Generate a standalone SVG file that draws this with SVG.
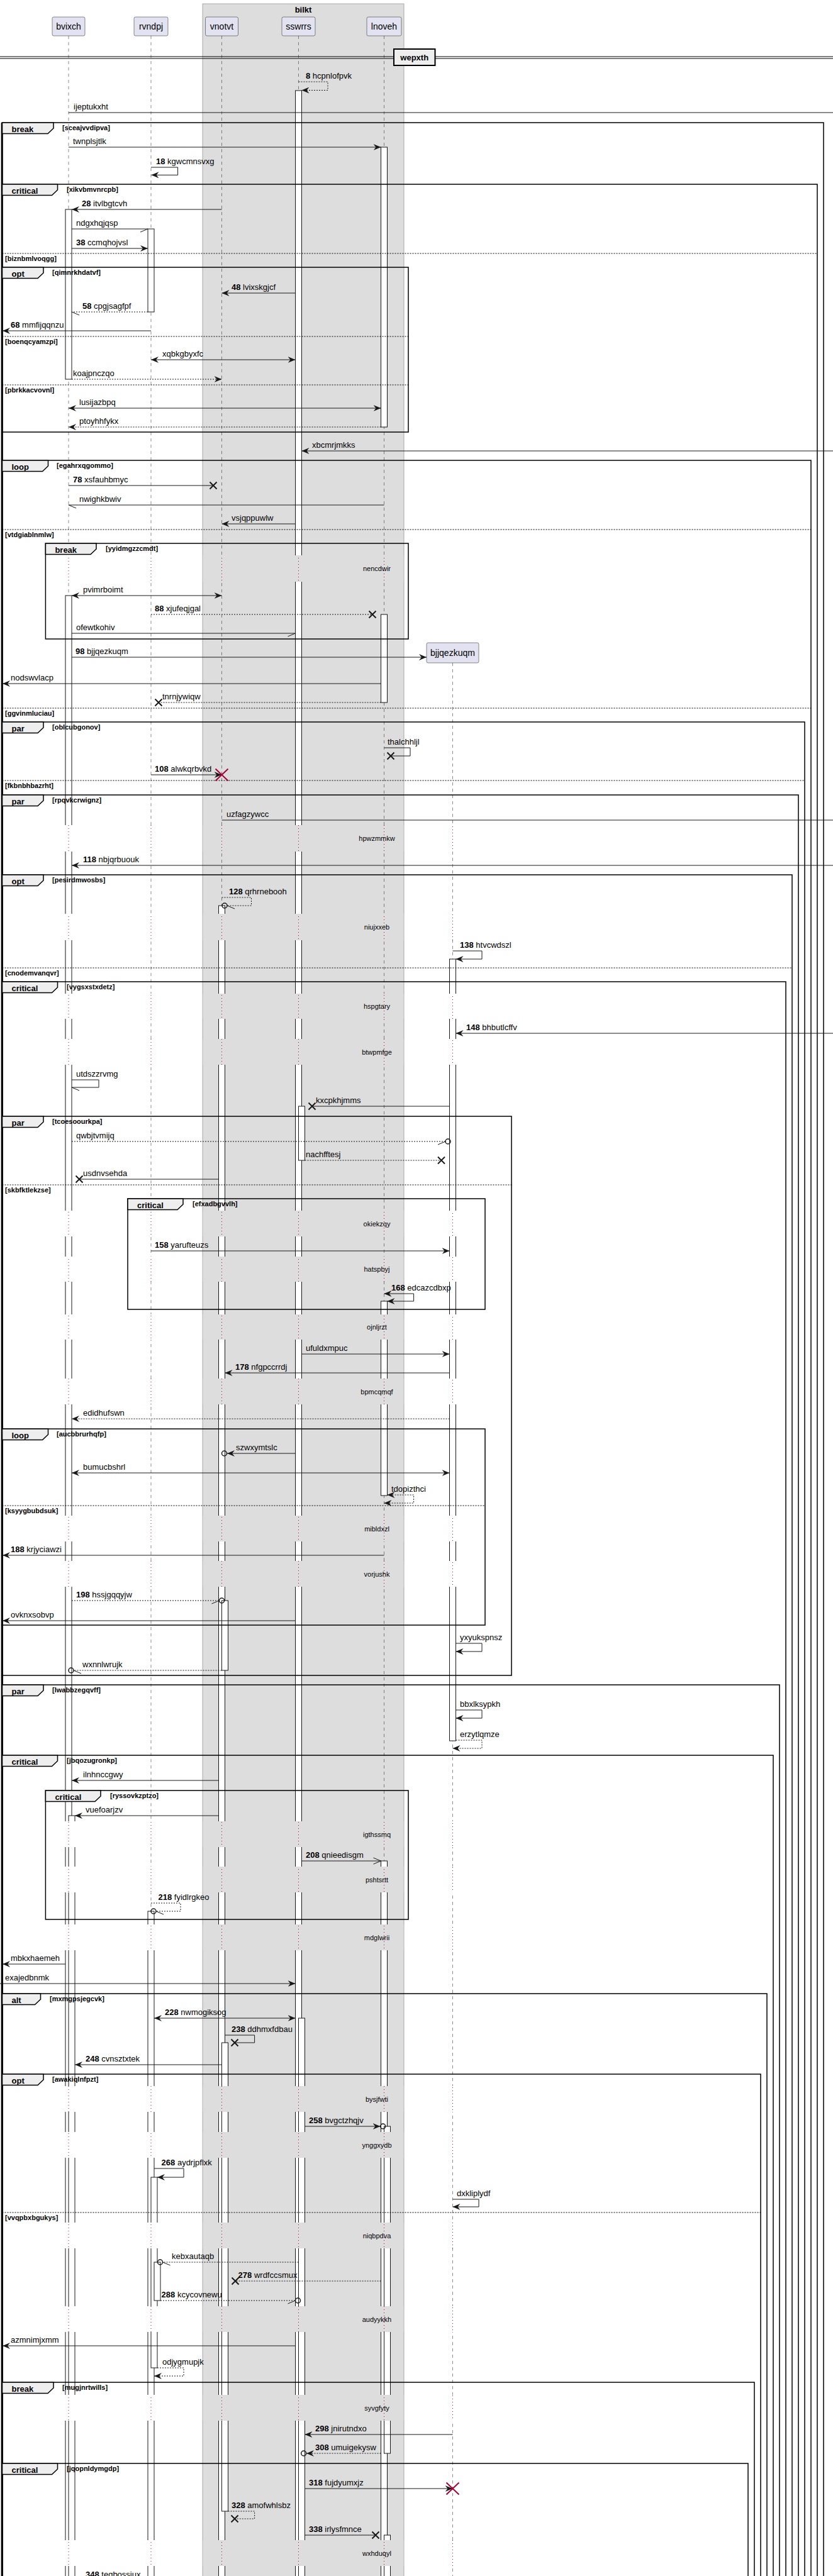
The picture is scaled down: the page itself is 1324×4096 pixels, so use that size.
<svg xmlns="http://www.w3.org/2000/svg" width="1324" height="4096" viewBox="0 0 1324 4096">
<style>
text{font-family:"Liberation Sans",Arial,sans-serif;font-size:13px;fill:#000}
.n{font-weight:bold}
.g{font-size:11px;font-weight:bold}
.k{font-weight:bold}
.d{font-size:11px;text-anchor:middle}
.p{font-size:14px;text-anchor:middle}
.m{stroke:#181818;stroke-width:1;fill:none}
.ds{stroke-dasharray:2,2}
.ll{stroke:#181818;stroke-width:0.5;stroke-dasharray:5,5;fill:none}
.dl{stroke:#A80036;stroke-width:1;stroke-dasharray:1,4;fill:none}
.act{fill:#fff;stroke:#181818;stroke-width:1}
.fr{fill:none;stroke:#000;stroke-width:1.5}
.tab{fill:#EEEEEE;stroke:#000;stroke-width:1.5}
.el{stroke:#000;stroke-width:1;stroke-dasharray:2,2;fill:none}
.x{stroke:#181818;stroke-width:2;fill:none}
.rx{stroke:#A80036;stroke-width:2;fill:none}
.c{fill:none;stroke:#181818;stroke-width:1.5}
.pb{fill:#E2E2F0;stroke:#181818;stroke-width:0.5}
</style>
<defs>
<marker id="a" viewBox="0 0 12 10" refX="12" refY="5" markerWidth="12" markerHeight="10" markerUnits="userSpaceOnUse" orient="auto-start-reverse"><path d="M0,0L12,5L0,10L4,5Z" fill="#181818"/></marker>
<marker id="hr" viewBox="-1 -1 14 12" refX="12" refY="5" markerWidth="14" markerHeight="12" markerUnits="userSpaceOnUse" orient="auto"><path d="M0,10L12,5" stroke="#181818" stroke-width="1" fill="none"/></marker>
<marker id="hl" viewBox="-1 -1 14 12" refX="12" refY="5" markerWidth="14" markerHeight="12" markerUnits="userSpaceOnUse" orient="auto"><path d="M0,0L12,5" stroke="#181818" stroke-width="1" fill="none"/></marker>
<marker id="o" viewBox="-1 -1 14 12" refX="12" refY="5" markerWidth="14" markerHeight="12" markerUnits="userSpaceOnUse" orient="auto"><path d="M0,0L12,5L0,10" stroke="#181818" stroke-width="1" fill="none"/></marker>
<clipPath id="dc">
<rect x="0" y="883" width="1324" height="42"/><rect x="0" y="1312" width="1324" height="42"/><rect x="0" y="1453" width="1324" height="42"/><rect x="0" y="1580" width="1324" height="40"/><rect x="0" y="1652" width="1324" height="41"/>
<rect x="0" y="1925" width="1324" height="41"/><rect x="0" y="1998" width="1324" height="40"/><rect x="0" y="2090" width="1324" height="40"/><rect x="0" y="2192" width="1324" height="41"/><rect x="0" y="2410" width="1324" height="41"/>
<rect x="0" y="2482" width="1324" height="41"/><rect x="0" y="2896" width="1324" height="41"/><rect x="0" y="2968" width="1324" height="41"/><rect x="0" y="3060" width="1324" height="41"/><rect x="0" y="3317" width="1324" height="41"/>
<rect x="0" y="3390" width="1324" height="41"/><rect x="0" y="3534" width="1324" height="41"/><rect x="0" y="3667" width="1324" height="41"/><rect x="0" y="3808" width="1324" height="41"/><rect x="0" y="4039" width="1324" height="41"/>
</clipPath>
</defs>
<rect x="0" y="0" width="1324" height="4096" fill="#fff"/>
<g id="box-bilkt">
<rect x="322" y="6" width="320" height="4100" fill="#DDDDDD"/>
<text class="k" x="482" y="19.5" text-anchor="middle">bilkt</text>
</g>
<g id="lifelines">
<path class="ll" d="M109,57V4096M240,57V4096M352.5,57V4096M474.5,57V4096M610.5,57V4096M719.5,1054V4096"/>
</g>
<g id="activations">
<rect class="act" x="104" y="333" width="10" height="270"/>
<rect class="act" x="104" y="947" width="10" height="3160"/>
<rect class="act" x="109" y="2887" width="10" height="1220"/>
<rect class="act" x="235" y="364" width="10" height="132"/>
<rect class="act" x="235" y="3039" width="10" height="1070"/>
<rect class="act" x="240" y="3462" width="10" height="303"/>
<rect class="act" x="245" y="3597" width="10" height="61"/>
<rect class="act" x="347.5" y="1440" width="10" height="2670"/>
<rect class="act" x="352.5" y="2545" width="10" height="111"/>
<rect class="act" x="352.5" y="3248" width="10" height="745"/>
<rect class="act" x="469.5" y="144" width="10" height="3966"/>
<rect class="act" x="474.5" y="1759" width="10" height="86"/>
<rect class="act" x="474.5" y="3209" width="10" height="900"/>
<rect class="act" x="605.5" y="234" width="10" height="445"/>
<rect class="act" x="605.5" y="977" width="10" height="140"/>
<rect class="act" x="605.5" y="2069" width="10" height="309"/>
<rect class="act" x="605.5" y="2959" width="10" height="1150"/>
<rect class="act" x="610.5" y="3381" width="10" height="520"/>
<rect class="act" x="610.5" y="4031" width="10" height="80"/>
<rect class="act" x="714.5" y="1525" width="10" height="1243"/>
</g>
<g id="delays">
<g clip-path="url(#dc)">
<rect x="0" y="0" width="1324" height="4096" fill="#fff"/>
<rect x="322.5" y="0" width="319" height="4096" fill="#DDDDDD"/>
<path class="dl" d="M109,57V4096M240,57V4096M352.5,57V4096M474.5,57V4096M610.5,57V4096M719.5,1054V4096"/>
</g>
<text class="d" x="599" y="908">nencdwir</text>
<text class="d" x="599" y="1337">hpwzmmkw</text>
<text class="d" x="599" y="1478">niujxxeb</text>
<text class="d" x="599" y="1604">hspgtary</text>
<text class="d" x="599" y="1676.5">btwpmfge</text>
<text class="d" x="599" y="1949.5">okiekzqy</text>
<text class="d" x="599" y="2022">hatspbyj</text>
<text class="d" x="599" y="2114">ojnljrzt</text>
<text class="d" x="599" y="2216.5">bpmcqmqf</text>
<text class="d" x="599" y="2434.5">mibldxzl</text>
<text class="d" x="599" y="2506.5">vorjushk</text>
<text class="d" x="599" y="2920.5">igthssmq</text>
<text class="d" x="599" y="2992.5">pshtsrtt</text>
<text class="d" x="599" y="3084.5">mdglwrii</text>
<text class="d" x="599" y="3341.5">bysjfwti</text>
<text class="d" x="599" y="3414.5">ynggxydb</text>
<text class="d" x="599" y="3558.5">niqbpdva</text>
<text class="d" x="599" y="3691.5">audyykkh</text>
<text class="d" x="599" y="3832.5">syvgfyty</text>
<text class="d" x="599" y="4063.5">wxhduqyl</text>
</g>
<rect x="322" y="6" width="320" height="4100" fill="none" stroke="#9A9A9A" stroke-width="0.8"/>
<g id="divider-wepxth">
<path d="M0,90H1324M0,93H1324" stroke="#000" stroke-width="1"/>
<rect x="626" y="78" width="65.5" height="26" fill="#EEEEEE" stroke="#000" stroke-width="2"/>
<text class="k" x="658.7" y="96" text-anchor="middle">wepxth</text>
</g>
<g id="frames">
<path d="M3.2,195V4096" stroke="#000" stroke-width="3"/>
<path class="fr" d="M3.5,4100V195H1309V4100"/>
<path class="tab" d="M3.5,195H85V204L76,212.5H3.5Z"/><text class="k" x="18.5" y="209.5">break</text><text class="g" x="99" y="207">[sceajvvdipva]</text>
<path class="fr" d="M3.5,4100V293H1299V4100"/>
<path class="tab" d="M3.5,293H91.5V302L82.5,310.5H3.5Z"/><text class="k" x="18.5" y="307.5">critical</text><text class="g" x="106" y="305">[xikvbmvnrcpb]</text>
<path class="el" d="M3.5,403H1299"/><text class="g" x="8" y="415">[biznbmlvoqgg]</text>
<rect class="fr" x="3.5" y="425" width="645.5" height="262"/>
<path class="tab" d="M3.5,425H69V434L60,442.5H3.5Z"/><text class="k" x="18.5" y="439.5">opt</text><text class="g" x="83" y="437">[qimnrkhdatvf]</text>
<path class="el" d="M3.5,535H649"/><text class="g" x="8" y="547">[boenqcyamzpi]</text>
<path class="el" d="M3.5,612H649"/><text class="g" x="8" y="624">[pbrkkacvovnl]</text>
<path class="fr" d="M3.5,4100V732H1289V4100"/>
<path class="tab" d="M3.5,732H76.5V741L67.5,749.5H3.5Z"/><text class="k" x="18.5" y="746.5">loop</text><text class="g" x="90" y="744">[egahrxqgommo]</text>
<path class="el" d="M3.5,842H1289"/><text class="g" x="8" y="854">[vtdgiablnmlw]</text>
<rect class="fr" x="72.4" y="864" width="576.6" height="152"/>
<path class="tab" d="M72.4,864H153V873L144,881.5H72.4Z"/><text class="k" x="87.4" y="878.5">break</text><text class="g" x="168" y="876">[yyidmgzzcmdt]</text>
<path class="el" d="M3.5,1126H1289"/><text class="g" x="8" y="1138">[ggvinmluciau]</text>
<path class="fr" d="M3.5,4100V1148H1279V4100"/>
<path class="tab" d="M3.5,1148H69V1157L60,1165.5H3.5Z"/><text class="k" x="18.5" y="1162.5">par</text><text class="g" x="83" y="1160">[oblcubgonov]</text>
<path class="el" d="M3.5,1241H1279"/><text class="g" x="8" y="1253">[fkbnbhbazrht]</text>
<path class="fr" d="M3.5,4100V1264H1269V4100"/>
<path class="tab" d="M3.5,1264H69V1273L60,1281.5H3.5Z"/><text class="k" x="18.5" y="1278.5">par</text><text class="g" x="83" y="1276">[rpqvkcrwignz]</text>
<path class="fr" d="M3.5,4100V1391H1259V4100"/>
<path class="tab" d="M3.5,1391H69V1400L60,1408.5H3.5Z"/><text class="k" x="18.5" y="1405.5">opt</text><text class="g" x="83" y="1403">[pesirdmwosbs]</text>
<path class="el" d="M3.5,1539H1259"/><text class="g" x="8" y="1551">[cnodemvanqvr]</text>
<path class="fr" d="M3.5,4100V1561H1249V4100"/>
<path class="tab" d="M3.5,1561H91.5V1570L82.5,1578.5H3.5Z"/><text class="k" x="18.5" y="1575.5">critical</text><text class="g" x="106" y="1573">[vygsxstxdetz]</text>
<rect class="fr" x="3.5" y="1775" width="809.5" height="889"/>
<path class="tab" d="M3.5,1775H69V1784L60,1792.5H3.5Z"/><text class="k" x="18.5" y="1789.5">par</text><text class="g" x="83" y="1787">[tcoesoourkpa]</text>
<path class="el" d="M3.5,1884H813"/><text class="g" x="8" y="1896">[skbfktlekzse]</text>
<rect class="fr" x="203" y="1906" width="568" height="176"/>
<path class="tab" d="M203,1906H291V1915L282,1923.5H203Z"/><text class="k" x="218" y="1920.5">critical</text><text class="g" x="306" y="1918">[efxadbgvvlh]</text>
<rect class="fr" x="3.5" y="2272" width="767.5" height="312"/>
<path class="tab" d="M3.5,2272H76.5V2281L67.5,2289.5H3.5Z"/><text class="k" x="18.5" y="2286.5">loop</text><text class="g" x="90" y="2284">[aucbbrurhqfp]</text>
<path class="el" d="M3.5,2394H771"/><text class="g" x="8" y="2406">[ksyygbubdsuk]</text>
<path class="fr" d="M3.5,4100V2679H1239V4100"/>
<path class="tab" d="M3.5,2679H69V2688L60,2696.5H3.5Z"/><text class="k" x="18.5" y="2693.5">par</text><text class="g" x="83" y="2691">[lwabbzegqvff]</text>
<path class="fr" d="M3.5,4100V2791H1229V4100"/>
<path class="tab" d="M3.5,2791H91.5V2800L82.5,2808.5H3.5Z"/><text class="k" x="18.5" y="2805.5">critical</text><text class="g" x="106" y="2803">[jbqozugronkp]</text>
<rect class="fr" x="72.4" y="2847" width="576.6" height="205"/>
<path class="tab" d="M72.4,2847H160V2856L151,2864.5H72.4Z"/><text class="k" x="87.4" y="2861.5">critical</text><text class="g" x="175" y="2859">[ryssovkzptzo]</text>
<path class="fr" d="M3.5,4100V3170H1219V4100"/>
<path class="tab" d="M3.5,3170H64.5V3179L55.5,3187.5H3.5Z"/><text class="k" x="18.5" y="3184.5">alt</text><text class="g" x="79" y="3182">[mxmgpsjegcvk]</text>
<path class="fr" d="M3.5,4100V3298H1209V4100"/>
<path class="tab" d="M3.5,3298H69V3307L60,3315.5H3.5Z"/><text class="k" x="18.5" y="3312.5">opt</text><text class="g" x="83" y="3310">[awakiqlnfpzt]</text>
<path class="el" d="M3.5,3518H1209"/><text class="g" x="8" y="3530">[vvqpbxbgukys]</text>
<path class="fr" d="M3.5,4100V3788H1199V4100"/>
<path class="tab" d="M3.5,3788H85V3797L76,3805.5H3.5Z"/><text class="k" x="18.5" y="3802.5">break</text><text class="g" x="99" y="3800">[mugjnrtwills]</text>
<path class="fr" d="M3.5,4100V3917H1189V4100"/>
<path class="tab" d="M3.5,3917H91.5V3926L82.5,3934.5H3.5Z"/><text class="k" x="18.5" y="3931.5">critical</text><text class="g" x="106" y="3929">[jqopnldymgdp]</text>
</g>
<g id="p-bvixch"><rect class="pb" x="83" y="27" width="52" height="30" rx="2.5"/><text class="p" x="109" y="47">bvixch</text></g>
<g id="p-rvndpj"><rect class="pb" x="213" y="27" width="54" height="30" rx="2.5"/><text class="p" x="240" y="47">rvndpj</text></g>
<g id="p-vnotvt"><rect class="pb" x="326.5" y="27" width="52" height="30" rx="2.5"/><text class="p" x="352.5" y="47">vnotvt</text></g>
<g id="p-sswrrs"><rect class="pb" x="448" y="27" width="53" height="30" rx="2.5"/><text class="p" x="474.5" y="47">sswrrs</text></g>
<g id="p-lnoveh"><rect class="pb" x="583" y="27" width="55" height="30" rx="2.5"/><text class="p" x="610.5" y="47">lnoveh</text></g>
<g id="p-bjjqezkuqm"><rect class="pb" x="678" y="1022" width="83" height="32" rx="2.5"/><text class="p" x="719.5" y="1043">bjjqezkuqm</text></g>
<g id="connectors">
<path class="m ds" d="M474.5,130H521V143.5H479.5" marker-end="url(#a)"/><text x="486" y="125"><tspan class="n">8</tspan> hcpnlofpvk</text>
<path class="m" d="M109,179H1324"/><text x="117" y="174">ijeptukxht</text>
<path class="m" d="M109,234H605.5" marker-end="url(#a)"/><text x="116" y="229">twnplsjtlk</text>
<path class="m" d="M240,266H282.6V278.3H240.5" marker-end="url(#a)"/><text x="248" y="261"><tspan class="n">18</tspan> kgwcmnsvxg</text>
<path class="m" d="M352.5,333H114" marker-end="url(#a)"/><text x="130" y="328"><tspan class="n">28</tspan> itvlbgtcvh</text>
<path class="m" d="M114,364H235" marker-end="url(#hr)"/><text x="121" y="359">ndgxhqjqsp</text>
<path class="m" d="M114,395H235" marker-end="url(#a)"/><text x="121" y="390"><tspan class="n">38</tspan> ccmqhojvsl</text>
<path class="m" d="M469.5,466H352.5" marker-end="url(#a)"/><text x="368" y="461"><tspan class="n">48</tspan> lvixskgjcf</text>
<path class="m ds" d="M235,496H114" marker-end="url(#hl)"/><text x="131" y="491"><tspan class="n">58</tspan> cpgjsagfpf</text>
<path class="m" d="M240,526H4" marker-end="url(#a)"/><text x="17" y="521"><tspan class="n">68</tspan> mmfijqqnzu</text>
<path class="m" d="M240,572H469.5" marker-start="url(#a)" marker-end="url(#a)"/><text x="258" y="567">xqbkgbyxfc</text>
<path class="m ds" d="M114,603H352.5" marker-end="url(#a)"/><text x="116" y="598">koajpnczqo</text>
<path class="m" d="M109,649H605.5" marker-start="url(#a)" marker-end="url(#a)"/><text x="126" y="644">lusijazbpq</text>
<path class="m ds" d="M605.5,679H109" marker-end="url(#a)"/><text x="126" y="674">ptoyhhfykx</text>
<path class="m" d="M1324,717H479.5" marker-end="url(#a)"/><text x="496" y="712">xbcmrjmkks</text>
<path class="m" d="M109,772H339"/><path class="x" d="M333.5,766.5L344.5,777.5M333.5,777.5L344.5,766.5"/><text x="116" y="767"><tspan class="n">78</tspan> xsfauhbmyc</text>
<path class="m" d="M610.5,803H109" marker-end="url(#hl)"/><text x="126" y="798">nwighkbwiv</text>
<path class="m" d="M469.5,833H352.5" marker-end="url(#a)"/><text x="368" y="828">vsjqppuwlw</text>
<path class="m" d="M114,947H352.5" marker-start="url(#a)" marker-end="url(#a)"/><text x="132" y="942">pvimrboimt</text>
<path class="m ds" d="M240,977H592"/><path class="x" d="M586.5,971.5L597.5,982.5M586.5,982.5L597.5,971.5"/><text x="246" y="972"><tspan class="n">88</tspan> xjufeqjgal</text>
<path class="m" d="M114,1007H469.5" marker-end="url(#hr)"/><text x="121" y="1002">ofewtkohiv</text>
<path class="m" d="M114,1045H678" marker-end="url(#a)"/><text x="120" y="1040"><tspan class="n">98</tspan> bjjqezkuqm</text>
<path class="m" d="M605.5,1087H4" marker-end="url(#a)"/><text x="17" y="1082">nodswvlacp</text>
<path class="m ds" d="M605.5,1117H252"/><path class="x" d="M246.5,1111.5L257.5,1122.5M246.5,1122.5L257.5,1111.5"/><text x="258" y="1112">tnrnjywiqw</text>
<path class="m" d="M610.5,1189H652V1202H621"/><path class="x" d="M615.5,1196.5L626.5,1207.5M615.5,1207.5L626.5,1196.5"/><text x="616" y="1184">thalchhljl</text>
<path class="m" d="M240,1232H352.5" marker-end="url(#a)"/><path class="rx" d="M342.5,1222.5L362.5,1241.5M342.5,1241.5L362.5,1222.5"/><text x="246" y="1227"><tspan class="n">108</tspan> alwkqrbvkd</text>
<path class="m" d="M352.5,1304H1324"/><text x="360" y="1299">uzfagzywcc</text>
<path class="m" d="M1324,1376H114" marker-end="url(#a)"/><text x="132" y="1371"><tspan class="n">118</tspan> nbjqrbuouk</text>
<path class="m ds" d="M352.5,1427H399.5V1440H361" marker-end="url(#hl)"/><circle class="c" cx="357" cy="1440" r="4"/><text x="364" y="1422"><tspan class="n">128</tspan> qrhrnebooh</text>
<path class="m" d="M719.5,1512H766V1525H724.5" marker-end="url(#a)"/><text x="731" y="1507"><tspan class="n">138</tspan> htvcwdszl</text>
<path class="m" d="M1324,1643H724.5" marker-end="url(#a)"/><text x="741" y="1638"><tspan class="n">148</tspan> bhbutlcffv</text>
<path class="m" d="M114,1717H157V1729H114" marker-end="url(#hl)"/><text x="121" y="1712">utdszzrvmg</text>
<path class="m" d="M714.5,1759H496"/><path class="x" d="M490.5,1753.5L501.5,1764.5M490.5,1764.5L501.5,1753.5"/><text x="502" y="1754">kxcpkhjmms</text>
<path class="m ds" d="M114,1815H708" marker-end="url(#hr)"/><circle class="c" cx="712" cy="1815" r="4"/><text x="121" y="1810">qwbjtvmijq</text>
<path class="m ds" d="M484.5,1845H701.5"/><path class="x" d="M696,1839.5L707,1850.5M696,1850.5L707,1839.5"/><text x="486" y="1840">nachfftesj</text>
<path class="m" d="M347.5,1875H126"/><path class="x" d="M120.5,1869.5L131.5,1880.5M120.5,1880.5L131.5,1869.5"/><text x="132" y="1870">usdnvsehda</text>
<path class="m" d="M240,1989H714.5" marker-end="url(#a)"/><text x="246" y="1984"><tspan class="n">158</tspan> yarufteuzs</text>
<path class="m" d="M610.5,2057H657.6V2069H615.5" marker-start="url(#a)" marker-end="url(#a)"/><text x="622" y="2052"><tspan class="n">168</tspan> edcazcdbxp</text>
<path class="m" d="M479.5,2153H714.5" marker-end="url(#a)"/><text x="486" y="2148">ufuldxmpuc</text>
<path class="m" d="M714.5,2183H357.5" marker-end="url(#a)"/><text x="374" y="2178"><tspan class="n">178</tspan> nfgpccrrdj</text>
<path class="m ds" d="M714.5,2256H114" marker-end="url(#a)"/><text x="132" y="2251">edidhufswn</text>
<path class="m" d="M469.5,2311H361" marker-end="url(#a)"/><circle class="c" cx="356.5" cy="2311" r="4"/><text x="375" y="2306">szwxymtslc</text>
<path class="m" d="M114,2342H714.5" marker-start="url(#a)" marker-end="url(#a)"/><text x="132" y="2337">bumucbshrl</text>
<path class="m ds" d="M615.5,2377H657.6V2390H610.5" marker-start="url(#a)" marker-end="url(#a)"/><text x="622" y="2372">tdopizthci</text>
<path class="m" d="M610.5,2473H4" marker-end="url(#a)"/><text x="17" y="2468"><tspan class="n">188</tspan> krjyciawzi</text>
<path class="m ds" d="M114,2545H348.5" marker-end="url(#hr)"/><circle class="c" cx="352.5" cy="2545" r="4"/><text x="121" y="2540"><tspan class="n">198</tspan> hssjgqqyjw</text>
<path class="m" d="M469.5,2577H4" marker-end="url(#a)"/><text x="17" y="2572">ovknxsobvp</text>
<path class="m" d="M724.5,2613H766V2626H724.5" marker-end="url(#a)"/><text x="731" y="2608">yxyukspnsz</text>
<path class="m ds" d="M352.5,2656H117" marker-end="url(#hl)"/><circle class="c" cx="113" cy="2656" r="4"/><text x="131" y="2651">wxnnlwrujk</text>
<path class="m" d="M724.5,2719H766V2732H724.5" marker-end="url(#a)"/><text x="731" y="2714">bbxlksypkh</text>
<path class="m ds" d="M724.5,2767H766V2780H719.5" marker-end="url(#a)"/><text x="731" y="2762">erzytlqmze</text>
<path class="m" d="M347.5,2831H114" marker-end="url(#a)"/><text x="132" y="2826">ilnhnccgwy</text>
<path class="m" d="M347.5,2887H119" marker-end="url(#a)"/><text x="136" y="2882">vuefoarjzv</text>
<path class="m" d="M479.5,2959H605.5" marker-end="url(#o)"/><text x="486" y="2954"><tspan class="n">208</tspan> qnieedisgm</text>
<path class="m ds" d="M240,3026H287V3039H248" marker-end="url(#hl)"/><circle class="c" cx="244" cy="3039" r="4"/><text x="251.5" y="3021"><tspan class="n">218</tspan> fyidlrgkeo</text>
<path class="m" d="M104,3123H4" marker-end="url(#a)"/><text x="17" y="3118">mbkxhaemeh</text>
<path class="m" d="M0,3154H469.5" marker-end="url(#a)"/><text x="8" y="3149">exajedbnmk</text>
<path class="m" d="M245,3209H469.5" marker-start="url(#a)" marker-end="url(#a)"/><text x="262" y="3204"><tspan class="n">228</tspan> nwmogiksog</text>
<path class="m" d="M357.5,3236H404.6V3248H373"/><path class="x" d="M367.5,3242.5L378.5,3253.5M367.5,3253.5L378.5,3242.5"/><text x="368" y="3231"><tspan class="n">238</tspan> ddhmxfdbau</text>
<path class="m" d="M352.5,3283H119" marker-end="url(#a)"/><text x="136" y="3278"><tspan class="n">248</tspan> cvnsztxtek</text>
<path class="m" d="M484.5,3381H604.5" marker-end="url(#a)"/><circle class="c" cx="608.7" cy="3381" r="4"/><text x="491" y="3376"><tspan class="n">258</tspan> bvgctzhqjv</text>
<path class="m" d="M245,3448H292V3462H250" marker-end="url(#a)"/><text x="256.6" y="3443"><tspan class="n">268</tspan> aydrjpflxk</text>
<path class="m" d="M719.5,3497H761V3509H719.5" marker-end="url(#a)"/><text x="726" y="3492">dxkliplydf</text>
<path class="m ds" d="M474.5,3597H258.5" marker-end="url(#hl)"/><circle class="c" cx="254.5" cy="3597" r="4"/><text x="273" y="3592">kebxautaqb</text>
<path class="m ds" d="M605.5,3627H374"/><path class="x" d="M368.5,3621.5L379.5,3632.5M368.5,3632.5L379.5,3621.5"/><text x="378.6" y="3622"><tspan class="n">278</tspan> wrdfccsmux</text>
<path class="m ds" d="M255,3658H469.5" marker-end="url(#hr)"/><circle class="c" cx="473.5" cy="3658" r="4"/><text x="256.6" y="3653"><tspan class="n">288</tspan> kcycovnewu</text>
<path class="m" d="M469.5,3730H4" marker-end="url(#a)"/><text x="17" y="3725">azmnimjxmm</text>
<path class="m ds" d="M250,3765H292V3778H245" marker-end="url(#a)"/><text x="258" y="3760">odjygmupjk</text>
<path class="m" d="M719.5,3871H484.5" marker-end="url(#a)"/><text x="501" y="3866"><tspan class="n">298</tspan> jnirutndxo</text>
<path class="m ds" d="M605.5,3901H487" marker-end="url(#a)"/><circle class="c" cx="482.7" cy="3901" r="4"/><text x="501" y="3896"><tspan class="n">308</tspan> umuigekysw</text>
<path class="m" d="M484.5,3957H719.5" marker-end="url(#a)"/><path class="rx" d="M709.5,3947.5L729.5,3966.5M709.5,3966.5L729.5,3947.5"/><text x="491" y="3952"><tspan class="n">318</tspan> fujdyumxjz</text>
<path class="m ds" d="M362.5,3993H404.6V4005H373"/><path class="x" d="M367.5,3999.5L378.5,4010.5M367.5,4010.5L378.5,3999.5"/><text x="368" y="3988"><tspan class="n">328</tspan> amofwhlsbz</text>
<path class="m" d="M484.5,4031H597"/><path class="x" d="M591.5,4025.5L602.5,4036.5M591.5,4036.5L602.5,4025.5"/><text x="491" y="4026"><tspan class="n">338</tspan> irlysfmnce</text>
<text x="136" y="4098"><tspan class="n">348</tspan> tegbossjux</text>
</g>
</svg>
